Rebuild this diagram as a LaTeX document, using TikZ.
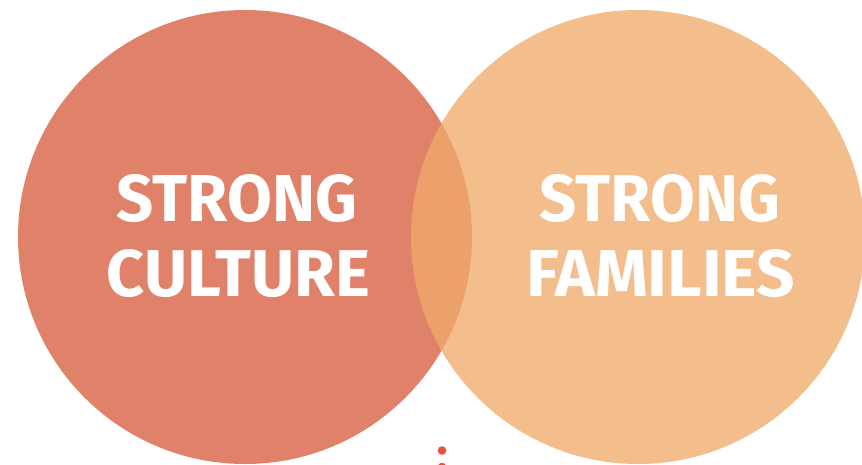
\documentclass[tikz,border=0pt]{standalone}
\usepackage{fontspec}
\setmainfont{Fira Sans}
\definecolor{leftc}{RGB}{224,130,106}
\definecolor{rightc}{RGB}{241,171,106}
\definecolor{dotc}{RGB}{232,83,58}
\begin{document}
\begin{tikzpicture}[x=1pt,y=-1pt,
  lbl/.style={text=white,inner sep=0pt,font=\bfseries}]
\useasboundingbox (0,0) rectangle (862,464);
\fill[white] (0,0) rectangle (862,464);
\begin{scope}
\clip (0,0) rectangle (862,464);
\fill[leftc] (245,237) circle (227);
\fill[rightc,opacity=0.77] (638,237) circle (227);
\fill[dotc] (442,450.5) circle (4.3);
\fill[dotc] (442,467) circle (4.3);
\end{scope}
\node[lbl] (s1) at (237,198.5) {\resizebox{240pt}{47pt}{STRONG}};
\node[lbl] (c1) at (238.5,273.5) {\resizebox{263pt}{47pt}{CULTURE}};
\node[lbl] (s2) at (660,198.5) {\resizebox{240pt}{47pt}{STRONG}};
\node[lbl] (f2) at (660.5,273.5) {\resizebox{269pt}{47pt}{FAMILIES}};
\end{tikzpicture}
\end{document}
